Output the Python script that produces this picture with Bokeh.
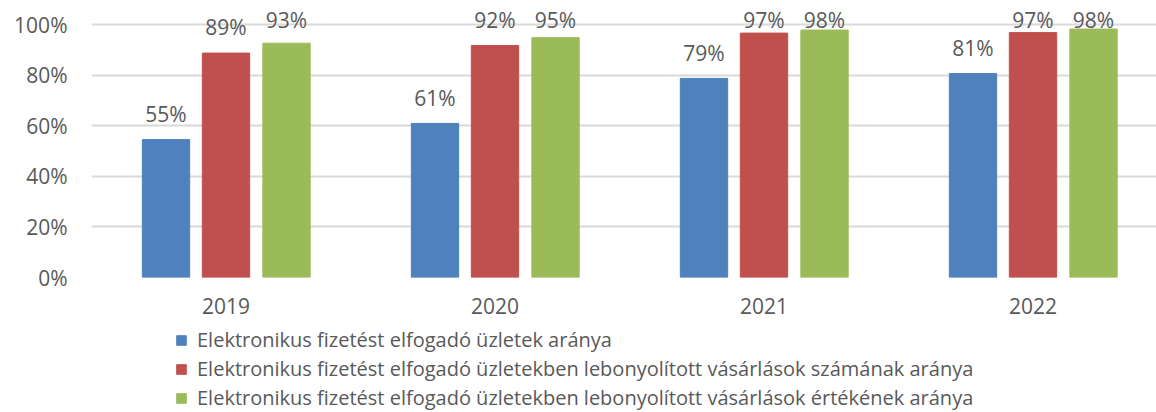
import numpy as np
from bokeh.plotting import figure
from bokeh.layouts import column
from bokeh.core.properties import value
from bokeh.models import (ColumnDataSource, Range1d, FixedTicker, LabelSet,
                          Legend, LegendItem, NumeralTickFormatter)
from bokeh.embed import file_html
from bokeh.resources import INLINE

years = ["2019", "2020", "2021", "2022"]
series_names = [
    "Elektronikus fizetést elfogadó üzletek aránya",
    "Elektronikus fizetést elfogadó üzletekben lebonyolított vásárlások számának aránya",
    "Elektronikus fizetést elfogadó üzletekben lebonyolított vásárlások értékének aránya",
]
shops = [0.545, 0.609, 0.787, 0.806]
count_share = [0.887, 0.917, 0.966, 0.968]
value_share = [0.926, 0.948, 0.978, 0.982]
labels_shops = ["55%", "61%", "79%", "81%"]
labels_count = ["89%", "92%", "97%", "97%"]
labels_value = ["93%", "95%", "98%", "98%"]
y_ticks = [0, 0.2, 0.4, 0.6, 0.8, 1.0]

colors = ["#4F81BD", "#C0504D", "#9BBB59"]
FONT = "Open Sans"
TXT = "#595959"

W = 1156
H1, H2 = 320, 92
frame_left = 91
frame_bottom = 277
frame_w = W - frame_left
unit_px = 269.0
frame_top_px = 24.0
y_unit = 253.0

p = figure(width=W, height=H1, output_backend="svg", toolbar_location=None,
           x_range=Range1d(0, frame_w / unit_px),
           y_range=Range1d(0, 1.0 + frame_top_px / y_unit),
           min_border_left=frame_left, min_border_right=0,
           min_border_top=0, min_border_bottom=H1 - frame_bottom)
p.outline_line_color = None
p.background_fill_color = "white"
p.border_fill_color = "white"

x = np.arange(len(years)) + 0.5
offsets = [-0.223, 0.0, 0.225]
bw = 0.176
data = [shops, count_share, value_share]
labs = [labels_shops, labels_count, labels_value]

sources = []
for i in range(3):
    vals = np.array(data[i])
    src = ColumnDataSource(dict(x=x + offsets[i], top=vals,
                                ly=np.minimum(vals + 0.07, 0.988),
                                lab=labs[i]))
    sources.append(src)
    p.vbar(x="x", top="top", width=bw, bottom=0, source=src,
           fill_color=colors[i], line_color=colors[i], line_width=1)
    ls = LabelSet(x="x", y="ly", text="lab", source=src,
                  text_align="center", text_baseline="alphabetic",
                  text_font=value(FONT), text_font_size="21px",
                  text_color=TXT)
    p.add_layout(ls)

# axes
p.xaxis.ticker = FixedTicker(ticks=list(x))
p.xaxis.major_label_overrides = {float(v): y for v, y in zip(x, years)}
p.xaxis.axis_line_color = None
p.xaxis.major_tick_line_color = None
p.xaxis.minor_tick_line_color = None
p.xaxis.major_label_standoff = 14
p.xaxis.major_label_text_font = FONT
p.xaxis.major_label_text_font_size = "21px"
p.xaxis.major_label_text_color = TXT

p.yaxis.ticker = FixedTicker(ticks=y_ticks)
p.yaxis.formatter = NumeralTickFormatter(format="0%")
p.yaxis.axis_line_color = None
p.yaxis.major_tick_line_color = None
p.yaxis.minor_tick_line_color = None
p.yaxis.major_label_standoff = 18
p.yaxis.major_label_text_font = FONT
p.yaxis.major_label_text_font_size = "21px"
p.yaxis.major_label_text_color = TXT

p.xgrid.grid_line_color = None
p.ygrid.grid_line_color = "#D9D9D9"
p.ygrid.grid_line_width = 2

# legend figure (proxy renderers share the data but lie outside its range)
q = figure(width=W, height=H2, output_backend="svg", toolbar_location=None,
           x_range=Range1d(100, 101), y_range=Range1d(100, 101),
           min_border_left=0, min_border_right=0, min_border_top=0,
           min_border_bottom=0)
q.axis.visible = False
q.grid.visible = False
q.outline_line_color = None
items = []
for i in range(3):
    r = q.vbar(x="x", top="top", width=bw, source=sources[i],
               fill_color=colors[i], line_color=colors[i])
    items.append(LegendItem(label=series_names[i], renderers=[r]))

legend = Legend(items=items, location=(84, 1), orientation="vertical",
                label_text_font=FONT, label_text_font_size="20px",
                label_text_color=TXT, glyph_width=12, glyph_height=12,
                label_standoff=10, spacing=2, padding=0, margin=0,
                border_line_color=None, background_fill_alpha=0,
                label_height=18)
q.add_layout(legend, "center")

open("out.html", "w").write(file_html(column(p, q, spacing=0), INLINE))
